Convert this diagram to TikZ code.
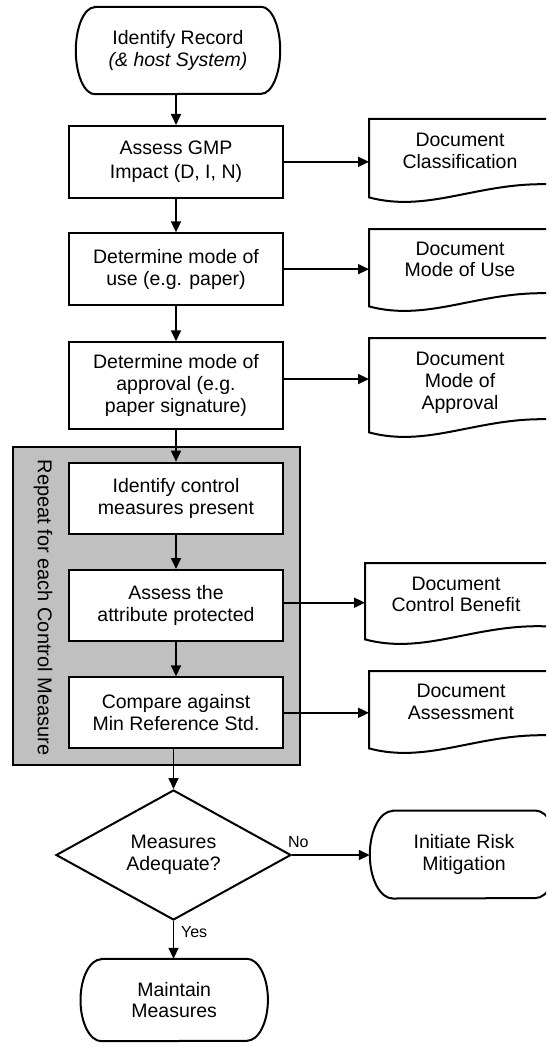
\documentclass[tikz,border=0pt]{standalone}
\usepackage{fontspec}
\setmainfont{Liberation Sans}
\usetikzlibrary{arrows.meta,shapes.geometric,calc}
\definecolor{graybox}{RGB}{192,192,192}
\newcommand\docwave[1]{%
  \draw[shapeline] (#1.south west) -- (#1.north west) -- (#1.north east) -- ([yshift=13pt]#1.south east)
    .. controls ([shift={(110pt,16pt)}]#1.south west) and ([shift={(60pt,-16pt)}]#1.south west) .. (#1.south west) -- cycle;}
\newcommand\termshape[3]{%
  \draw[shapeline] ([xshift=#2]#1.north west) -- ([xshift=-#2]#1.north east)
    arc[start angle=90,end angle=-90,x radius=#2,y radius=#3]
    -- ([xshift=#2]#1.south west)
    arc[start angle=270,end angle=90,x radius=#2,y radius=#3] -- cycle;}
\begin{document}
\begin{tikzpicture}[x=1pt,y=-1pt,
  every node/.style={font=\fontsize{19.5}{21.7}\selectfont},
  procbox/.style={draw, line width=2pt, fill=white, minimum width=213.4pt, inner sep=0pt, align=center},
  termbox/.style={inner sep=0pt, align=center},
  docbox/.style={inner sep=0pt, anchor=north west, minimum width=182pt},
  doctext/.style={inner sep=0pt, align=center, anchor=base},
  arr/.style={line width=1.7pt, -{Triangle[length=11pt,width=10pt]}},
  lbl/.style={font=\fontsize{16}{18}\selectfont, inner sep=0pt, anchor=base west},
  shapeline/.style={line width=2pt, line join=miter}
]
\useasboundingbox (0,0) rectangle (546,1046);
\clip (0,0) rectangle (546,1046);

% loop container
\node[draw, line width=2pt, fill=graybox, minimum width=287pt, minimum height=318pt, inner sep=0pt, anchor=north west] (loop) at (12,446) {};
\node[rotate=-90, inner sep=0pt, font=\fontsize{20}{22}\selectfont] (looplbl) at (43,607.5) {Repeat for each Control Measure};

% terminals
\node[termbox, minimum width=204pt, minimum height=87pt] (t1) at (178,50.5) {Identify Record\\\textit{(\& host System)}};
\termshape{t1}{19pt}{43.5pt}

% process boxes
\node[procbox, minimum height=71.7pt, font=\fontsize{19.5}{24}\selectfont] (b1) at (176,161.85) {Assess GMP\\Impact (D, I, N)};
\node[procbox, minimum height=71.7pt] (b2) at (176,269.15) {Determine mode of\\use (e.g. paper)};
\node[procbox, minimum height=86.7pt] (b3) at (176,385.65) {Determine mode of\\approval (e.g.\\paper signature)};
\node[procbox, minimum height=71.6pt] (b4) at (176,498.5) {Identify control\\measures present};
\node[procbox, minimum height=71pt] (b5) at (176,605.5) {Assess the\\attribute protected};
\node[procbox, minimum height=71pt] (b6) at (176,712.8) {Compare against\\Min Reference Std.};

% decision
\node[diamond, draw, line width=2pt, aspect=1.8, minimum width=235pt, minimum height=130pt, inner sep=0pt, align=center] (dec) at (173.5,855) {Measures\\Adequate?};

\node[termbox, minimum width=188pt, minimum height=87.6pt] (t2) at (464,854.5) {Initiate Risk\\Mitigation};
\termshape{t2}{23pt}{43.8pt}
\node[termbox, minimum width=187pt, minimum height=82pt] (t3) at (174.2,1000) {Maintain\\Measures};
\termshape{t3}{21pt}{41pt}

% documents
\node[docbox, minimum height=78pt] (d1) at (369,119) {};
\docwave{d1}
\node[doctext] (d1t) at (460,168) {Document\\Classification};
\node[docbox, minimum height=77pt] (d2) at (369,229) {};
\docwave{d2}
\node[doctext] (d2t) at (460,276.7) {Document\\Mode of Use};
\node[docbox, minimum height=94pt] (d3) at (369,338) {};
\docwave{d3}
\node[doctext] (d3t) at (460,409) {Document\\Mode of\\Approval};
\node[docbox, minimum height=76pt] (d4) at (365,563) {};
\docwave{d4}
\node[doctext] (d4t) at (456,611.7) {Document\\Control Benefit};
\node[docbox, minimum height=77pt] (d5) at (369,671) {};
\docwave{d5}
\node[doctext] (d5t) at (461,719.3) {Document\\Assessment};

% connectors
\draw[arr] (b1.north |- t1.south) -- (b1.north);
\draw[arr] (b1.south) -- (b2.north);
\draw[arr] (b2.south) -- (b3.north);
\draw[arr] (b3.south) -- (b4.north);
\draw[arr] (b4.south) -- (b5.north);
\draw[arr] (b5.south) -- (b6.north);
\draw[arr] (dec.north |- b6.south) -- (dec.north);
\draw[arr] (b1.east) -- (b1.east -| d1.west);
\draw[arr] (b2.east) -- (b2.east -| d2.west);
\draw[arr] ([yshift=6.6pt]b3.east) -- ([yshift=6.6pt]b3.east -| d3.west);
\draw[arr] ([yshift=2.8pt]b5.east) -- ([yshift=2.8pt]b5.east -| d4.west);
\draw[arr] (b6.east) -- (b6.east -| d5.west);
\draw[arr] (dec.east) -- node[lbl, pos=0, xshift=-4.7pt, yshift=7.7pt] {No} (dec.east -| t2.west);
\draw[arr] (dec.south) -- node[lbl, pos=0, xshift=6.7pt, yshift=-16.7pt] {Yes} (dec.south |- t3.north);
\end{tikzpicture}
\end{document}
